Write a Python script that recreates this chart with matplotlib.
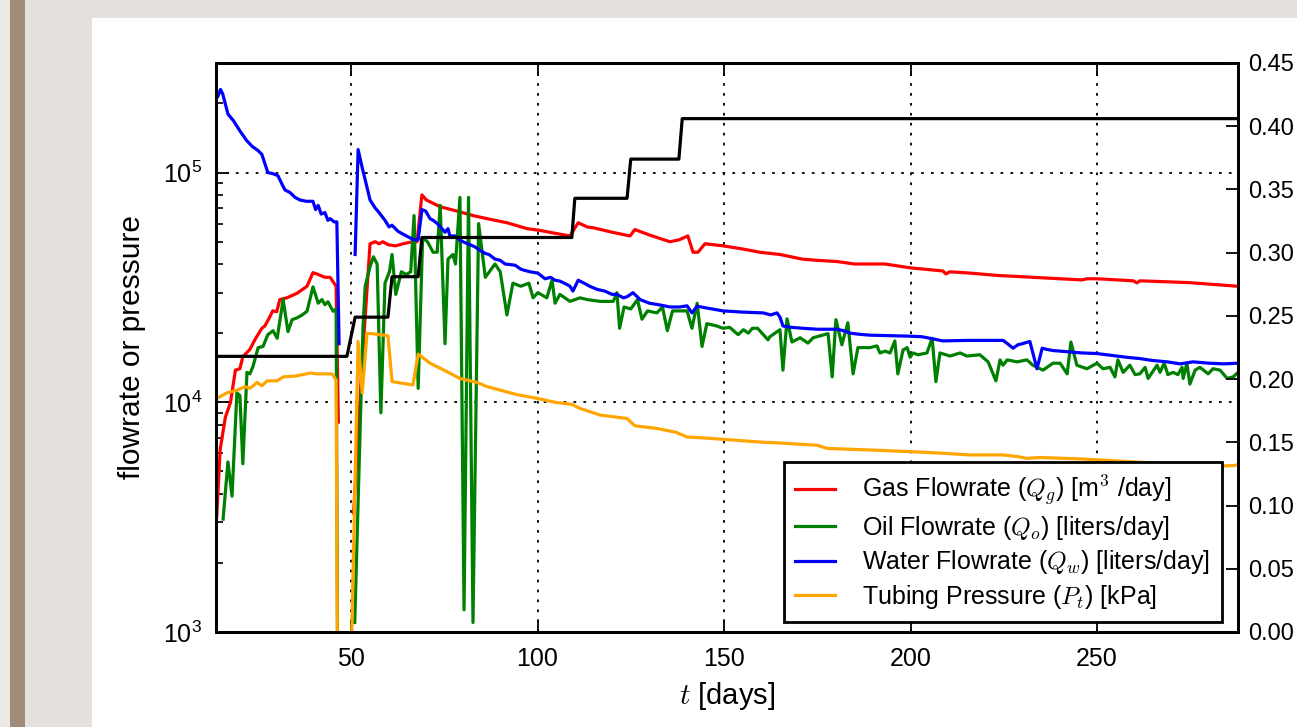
import numpy as np
import matplotlib
matplotlib.use("Agg")
import matplotlib.pyplot as plt
from matplotlib.patches import Rectangle
from matplotlib.ticker import FormatStrFormatter, LogLocator, FixedLocator

plt.rcParams['font.family'] = ['Liberation Sans', 'DejaVu Sans']
plt.rcParams['mathtext.fontset'] = 'cm'

nan = np.nan

# ---------------- data ----------------
gas_t = [14.0, 14.9, 16.3, 17.7, 19.0, 20.2, 21.0, 22.9, 24.2, 26.1, 26.9, 28.2, 29.0, 30.1,
         30.9, 32.8, 35.5, 38.2, 39.8, 41.2, 43.0, 44.4, 46.0, 46.6, nan,
         50.7, 53.0, 55.1, 56.5, 57.5, 58.5, 60.0, 62.0, 64.0, 66.4, 67.7, 69.0, 70.2, 73.9,
         78.4, 82.7, 86.5, 91.8, 97.2, 100.7, 104.5, 108.7, 110.9, 113.3, 115.0, 120.0, 124.8,
         126.1, 130.0, 135.5, 138.0, 140.3, 141.7, 143.0, 144.9, 149.7, 155.0, 159.6, 165.0,
         171.0, 175.0, 180.3, 185.0, 193.2, 199.9, 208.7, 209.5, 210.5, 215.1, 224.0, 228.8,
         232.8, 246.0, 247.3, 250.0, 259.7, 260.7, 261.5, 274.6, 287.8]
gas_q = [3.2e3, 6.2e3, 8.6e3, 1.0e4, 1.38e4, 1.40e4, 1.58e4, 1.70e4, 1.87e4, 2.1e4, 2.15e4, 2.35e4,
         2.5e4, 2.48e4, 2.8e4, 2.85e4, 2.98e4, 3.2e4, 3.67e4, 3.6e4, 3.5e4, 3.5e4, 3.2e4, 8.2e3, nan,
         3.3e3, 1.5e4, 4.9e4, 5.0e4, 4.9e4, 5.0e4, 4.85e4, 4.8e4, 4.9e4, 5.0e4, 5.0e4, 8.0e4, 7.6e4,
         7.1e4, 6.8e4, 6.5e4, 6.3e4, 6.05e4, 5.7e4, 5.6e4, 5.45e4, 5.3e4, 6.05e4, 5.8e4, 5.75e4,
         5.5e4, 5.3e4, 5.65e4, 5.35e4, 5.0e4, 5.1e4, 5.3e4, 4.5e4, 4.5e4, 4.9e4, 4.8e4, 4.65e4,
         4.5e4, 4.4e4, 4.2e4, 4.15e4, 4.1e4, 4.0e4, 4.0e4, 3.85e4, 3.73e4, 3.62e4, 3.7e4, 3.66e4,
         3.56e4, 3.53e4, 3.5e4, 3.41e4, 3.45e4, 3.45e4, 3.38e4, 3.31e4, 3.38e4, 3.32e4, 3.2e4]

oil_t = [15.7, 17.0, 18.1, 19.4, 20.2, 21.0, 22.1, 22.9, 23.7, 25.1, 26.4, 27.7, 29.1, 30.2, 31.8,
         33.1, 34.2, 35.5, 36.9, 38.2, 39.8, 41.2, 42.2, 43.0, 43.8, 45.2, 46.0, 46.9, nan,
         51.0, 53.2, 53.8, 55.1, 56.0, 57.0, 58.0, 59.1, 60.3, 61.0, 62.0, 63.5, 64.8, 66.0, 66.9,
         68.0, 69.2, 70.5, 72.0, 73.1, 73.9, 75.2, 76.0, 77.3, 78.0, 79.2, 80.3, 81.5, 82.7, 84.2,
         86.0, 88.6, 90.0, 91.8, 93.4, 95.5, 97.7, 98.8, 100.1, 102.5, 103.9, 104.7, 106.0, 108.7,
         111.4, 113.3, 116.8, 120.3, 121.3, 122.0, 123.2, 125.0, 126.8, 128.0, 129.5, 132.0, 133.5,
         134.8, 136.2, 140.1, 141.4, 142.8, 144.1, 145.4, 148.0, 149.7, 151.5, 153.8, 155.2, 156.5,
         157.6, 159.0, 161.8, 162.3, 165.0, 165.8, 166.9, 168.2, 170.4, 172.5, 173.9, 177.9, 179.0,
         180.0, 181.6, 183.2, 184.6, 185.9, 189.1, 191.0, 191.8, 193.2, 194.5, 195.8, 196.6, 198.0,
         199.1, 199.9, 200.7, 202.0, 204.4, 205.8, 206.8, 207.9, 210.6, 213.3, 215.1, 218.6, 220.8,
         222.9, 224.0, 224.8, 225.9, 228.6, 231.2, 232.8, 235.5, 238.2, 240.1, 242.0, 243.0, 244.6,
         247.3, 250.0, 251.6, 253.5, 254.8, 255.6, 257.0, 258.8, 260.2, 261.5, 262.9, 263.7, 266.1,
         266.9, 268.0, 269.0, 270.4, 271.7, 272.8, 273.1, 274.1, 274.9, 276.3, 277.6, 279.8, 281.1,
         283.0, 284.9, 286.5, 287.8]
oil_q = [3.1e3, 5.5e3, 3.9e3, 1.1e4, 1.07e4, 5.4e3, 1.35e4, 1.33e4, 1.43e4, 1.73e4, 1.75e4, 1.97e4,
         2.05e4, 1.9e4, 2.8e4, 2.03e4, 2.29e4, 2.33e4, 2.4e4, 2.49e4, 3.18e4, 2.7e4, 2.8e4, 2.66e4,
         2.74e4, 2.49e4, 2.55e4, 10, nan,
         1.1e3, 2.1e4, 3.2e4, 3.9e4, 4.3e4, 4.0e4, 9.0e3, 3.3e4, 3.7e4, 4.4e4, 2.95e4, 3.7e4, 3.6e4,
         3.7e4, 6.5e4, 1.15e4, 5.2e4, 5.0e4, 4.5e4, 4.5e4, 7.2e4, 1.8e4, 4.2e4, 4.4e4, 4.0e4, 7.8e4,
         1.25e3, 7.8e4, 1.1e3, 6.0e4, 3.5e4, 4.0e4, 3.7e4, 2.4e4, 3.3e4, 3.2e4, 3.3e4, 2.85e4, 3.0e4,
         2.85e4, 3.4e4, 2.7e4, 2.95e4, 2.75e4, 2.85e4, 2.8e4, 2.75e4, 2.75e4, 3.0e4, 2.1e4, 2.6e4,
         2.55e4, 2.8e4, 2.3e4, 2.5e4, 2.45e4, 2.6e4, 2.05e4, 2.5e4, 2.5e4, 2.1e4, 2.7e4, 1.75e4,
         2.2e4, 2.15e4, 2.1e4, 2.12e4, 1.97e4, 2.07e4, 2.0e4, 2.1e4, 2.1e4, 1.87e4, 1.93e4, 2.07e4,
         1.38e4, 2.31e4, 1.83e4, 1.91e4, 1.81e4, 1.91e4, 1.99e4, 1.29e4, 2.29e4, 1.78e4, 2.22e4,
         1.33e4, 1.73e4, 1.73e4, 1.76e4, 1.64e4, 1.67e4, 1.64e4, 1.85e4, 1.33e4, 1.69e4, 1.73e4,
         1.57e4, 1.64e4, 1.61e4, 1.64e4, 1.90e4, 1.23e4, 1.64e4, 1.59e4, 1.64e4, 1.59e4, 1.61e4,
         1.50e4, 1.24e4, 1.53e4, 1.45e4, 1.53e4, 1.50e4, 1.53e4, 1.45e4, 1.38e4, 1.48e4, 1.48e4,
         1.33e4, 1.83e4, 1.45e4, 1.40e4, 1.48e4, 1.40e4, 1.42e4, 1.29e4, 1.53e4, 1.35e4, 1.45e4,
         1.32e4, 1.33e4, 1.42e4, 1.27e4, 1.45e4, 1.35e4, 1.48e4, 1.32e4, 1.35e4, 1.32e4, 1.42e4,
         1.27e4, 1.48e4, 1.20e4, 1.38e4, 1.42e4, 1.33e4, 1.40e4, 1.38e4, 1.27e4, 1.29e4, 1.35e4]

water_t = [14.3, 15.0, 15.6, 17.0, 18.5, 20.2, 22.0, 23.5, 25.0, 26.1, 27.7, 29.0, 30.4, 31.5,
           32.3, 33.6, 35.0, 36.3, 38.0, 39.8, 40.5, 41.2, 42.0, 43.0, 43.8, 44.4, 45.5, 46.2,
           46.8, nan,
           51.1, 51.9, 53.0, 53.8, 55.1, 56.5, 57.2, 59.1, 60.2, 61.0, 62.6, 63.9, 65.8, 66.9,
           68.0, 69.0, 70.0, 71.2, 72.0, 73.1, 74.0, 75.2, 76.0, 76.5, 77.9, 79.0, 80.6, 82.0,
           83.2, 84.5, 85.9, 87.0, 88.6, 90.0, 91.3, 92.5, 94.0, 95.5, 96.6, 98.0, 100.1, 102.0,
           103.5, 104.7, 106.0, 108.0, 108.7, 109.5, 110.9, 112.5, 114.0, 116.0, 118.0, 120.0,
           121.3, 123.0, 124.0, 125.6, 127.5, 130.0, 133.0, 135.5, 138.0, 140.1, 141.4, 142.8,
           145.0, 149.7, 155.0, 160.5, 162.5, 164.2, 165.0, 165.8, 168.0, 171.2, 175.0, 180.3,
           182.0, 183.8, 186.0, 189.1, 195.0, 199.9, 203.0, 205.2, 208.7, 215.0, 220.0, 224.8,
           226.0, 227.5, 228.8, 230.0, 232.0, 233.9, 235.3, 236.5, 238.2, 242.0, 246.0, 250.0,
           254.0, 258.0, 261.5, 265.0, 268.8, 272.3, 275.7, 280.0, 284.0, 287.8]
water_q = [2.15e5, 2.3e5, 2.2e5, 1.8e5, 1.68e5, 1.52e5, 1.38e5, 1.30e5, 1.25e5, 1.2e5, 1.0e5,
           9.9e4, 9.7e4, 8.9e4, 8.4e4, 8.2e4, 7.8e4, 7.6e4, 7.5e4, 7.5e4, 6.9e4, 7.2e4, 6.6e4,
           6.7e4, 6.2e4, 6.3e4, 6.1e4, 6.1e4, 1.8e4, nan,
           4.4e4, 1.26e5, 1.05e5, 9.3e4, 7.6e4, 7.0e4, 6.8e4, 6.2e4, 5.8e4, 5.9e4, 5.55e4, 5.4e4,
           5.2e4, 5.1e4, 5.1e4, 6.9e4, 6.8e4, 6.3e4, 6.2e4, 6.0e4, 5.8e4, 5.5e4, 5.7e4, 5.3e4,
           5.3e4, 5.1e4, 4.95e4, 4.85e4, 4.75e4, 4.6e4, 4.45e4, 4.4e4, 4.2e4, 4.15e4, 4.0e4,
           3.98e4, 3.95e4, 3.8e4, 3.75e4, 3.7e4, 3.65e4, 3.45e4, 3.5e4, 3.4e4, 3.37e4, 3.25e4,
           3.2e4, 3.05e4, 3.4e4, 3.3e4, 3.2e4, 3.1e4, 3.05e4, 2.95e4, 2.95e4, 2.85e4, 2.88e4,
           3.0e4, 2.8e4, 2.7e4, 2.65e4, 2.6e4, 2.6e4, 2.63e4, 2.45e4, 2.62e4, 2.58e4, 2.5e4,
           2.47e4, 2.45e4, 2.4e4, 2.45e4, 2.35e4, 2.15e4, 2.12e4, 2.1e4, 2.08e4, 2.08e4, 2.05e4,
           2.0e4, 1.98e4, 1.96e4, 1.95e4, 1.94e4, 1.93e4, 1.9e4, 1.85e4, 1.86e4, 1.86e4, 1.86e4,
           1.8e4, 1.72e4, 1.78e4, 1.8e4, 1.84e4, 1.4e4, 1.72e4, 1.7e4, 1.68e4, 1.66e4, 1.64e4,
           1.63e4, 1.6e4, 1.57e4, 1.55e4, 1.52e4, 1.5e4, 1.47e4, 1.5e4, 1.48e4, 1.47e4, 1.48e4]

press_t = [14.0, 16.8, 19.5, 21.6, 22.9, 24.8, 26.1, 27.5, 30.2, 31.8, 35.0, 39.0, 40.9, 44.9,
           46.0, 46.9, 49.8, 51.9, 53.0, 54.3, 59.9, 61.0, 66.6, 68.0, 71.2, 75.7, 79.2, 83.8,
           86.5, 94.5, 99.9, 104.7, 109.2, 111.4, 116.8, 124.0, 126.1, 131.9, 137.2, 140.1, 144.4,
           149.7, 160.5, 165.0, 175.0, 177.6, 189.1, 199.9, 208.7, 215.9, 224.8, 228.8, 231.2,
           234.7, 245.4, 250.0, 268.8, 276.8, 286.5, 287.8]
press_p = [1.04e4, 1.10e4, 1.13e4, 1.17e4, 1.15e4, 1.22e4, 1.18e4, 1.24e4, 1.24e4, 1.29e4, 1.30e4,
           1.34e4, 1.33e4, 1.33e4, 1.25e4, 10, 500, 1.84e4, 1.1e4, 2.0e4, 1.95e4, 1.23e4, 1.19e4,
           1.62e4, 1.48e4, 1.36e4, 1.27e4, 1.22e4, 1.17e4, 1.08e4, 1.04e4, 1.0e4, 9.8e3, 9.4e3,
           8.8e3, 8.5e3, 7.9e3, 7.7e3, 7.4e3, 7.06e3, 7.0e3, 6.9e3, 6.7e3, 6.65e3, 6.5e3, 6.3e3,
           6.2e3, 6.1e3, 6.0e3, 5.9e3, 5.9e3, 5.8e3, 5.7e3, 5.75e3, 5.67e3, 5.62e3, 5.4e3, 5.25e3,
           5.3e3, 5.35e3]

step_t = [14.0, 48.9, 51.1, 59.9, 61.0, 68.0, 69.0, 109.2, 110.0, 124.0, 125.0, 137.9, 138.8, 287.8]
step_v = [0.218, 0.218, 0.249, 0.249, 0.281, 0.281, 0.312, 0.312, 0.343, 0.343, 0.374, 0.374,
          0.406, 0.406]

labels = [r"Gas Flowrate ($Q_g$) [m$^3$ /day]",
          r"Oil Flowrate ($Q_o$) [liters/day]",
          r"Water Flowrate ($Q_w$) [liters/day]",
          r"Tubing Pressure ($P_t$) [kPa]"]
colors = ['red', 'green', 'blue', 'orange']
right_ticks = [0.00, 0.05, 0.10, 0.15, 0.20, 0.25, 0.30, 0.35, 0.40, 0.45]
x_ticks = [50, 100, 150, 200, 250]

# ---------------- figure ----------------
W, H = 1297, 727
fig = plt.figure(figsize=(W / 100, H / 100), dpi=100)
fig.patch.set_facecolor('#e4e0db')
fig.patches.append(Rectangle((0, 0), 10 / W, 1, transform=fig.transFigure,
                             facecolor='#ece8e4', edgecolor='none', zorder=-10))
fig.patches.append(Rectangle((10 / W, 0), 15 / W, 1, transform=fig.transFigure,
                             facecolor='#a08b79', edgecolor='none', zorder=-10))
fig.patches.append(Rectangle((92 / W, 0), 1 - 92 / W, (H - 18) / H, transform=fig.transFigure,
                             facecolor='white', edgecolor='none', zorder=-10))

ax = fig.add_axes([216 / W, (H - 632) / H, (1238 - 216) / W, (632 - 63) / H])
ax.set_facecolor('none')

lw = 2.3
series = [(gas_t, gas_q), (oil_t, oil_q), (water_t, water_q), (press_t, press_p)]
for (t, v), c, lab in zip(series, colors, labels):
    ax.plot(t, v, color=c, lw=lw, label=lab)

ax.set_yscale('log')
ax.set_ylim(1e3, 3e5)
ax.set_xlim(13.8, 287.8)
ax.xaxis.set_major_locator(FixedLocator(x_ticks))
ax.yaxis.set_major_locator(LogLocator(base=10, numticks=10))
ax.yaxis.set_minor_locator(LogLocator(base=10, subs=np.arange(2, 10), numticks=20))
ax.grid(True, which='major', color='black', linestyle=(0, (1.5, 4)), lw=1.3)
ax.tick_params(which='both', direction='in', top=True, right=False, labelsize=18)
ax.tick_params(axis='x', pad=11)
ax.tick_params(axis='y', pad=10)
ax.tick_params(which='major', length=9, width=1.3)
ax.tick_params(which='minor', length=5, width=1.2)
for s in ax.spines.values():
    s.set_linewidth(2.0)

ax.set_xlabel(r"$t$ [days]", fontsize=21, labelpad=6)
ax.set_ylabel("flowrate or pressure", fontsize=21.5, labelpad=12)

ax2 = ax.twinx()
ax2.plot(step_t, step_v, color='black', lw=lw)
ax2.set_ylim(0, 0.45)
ax2.set_xlim(13.8, 287.8)
ax2.yaxis.set_major_locator(FixedLocator(right_ticks))
ax2.yaxis.set_major_formatter(FormatStrFormatter('%.2f'))
ax2.tick_params(direction='in', length=9, width=1.3, labelsize=17, pad=7)
for s in ax2.spines.values():
    s.set_linewidth(2.0)

leg = ax2.legend(*ax.get_legend_handles_labels(), loc='lower right',
                 bbox_to_anchor=(0.984, 0.0176), borderaxespad=0, fontsize=18,
                 fancybox=False, edgecolor='black', framealpha=1, handlelength=1.6,
                 handletextpad=1.1, labelspacing=0.25, borderpad=0.45)
leg.get_frame().set_linewidth(2.0)

fig.savefig('out.png', dpi=100, facecolor=fig.get_facecolor())
